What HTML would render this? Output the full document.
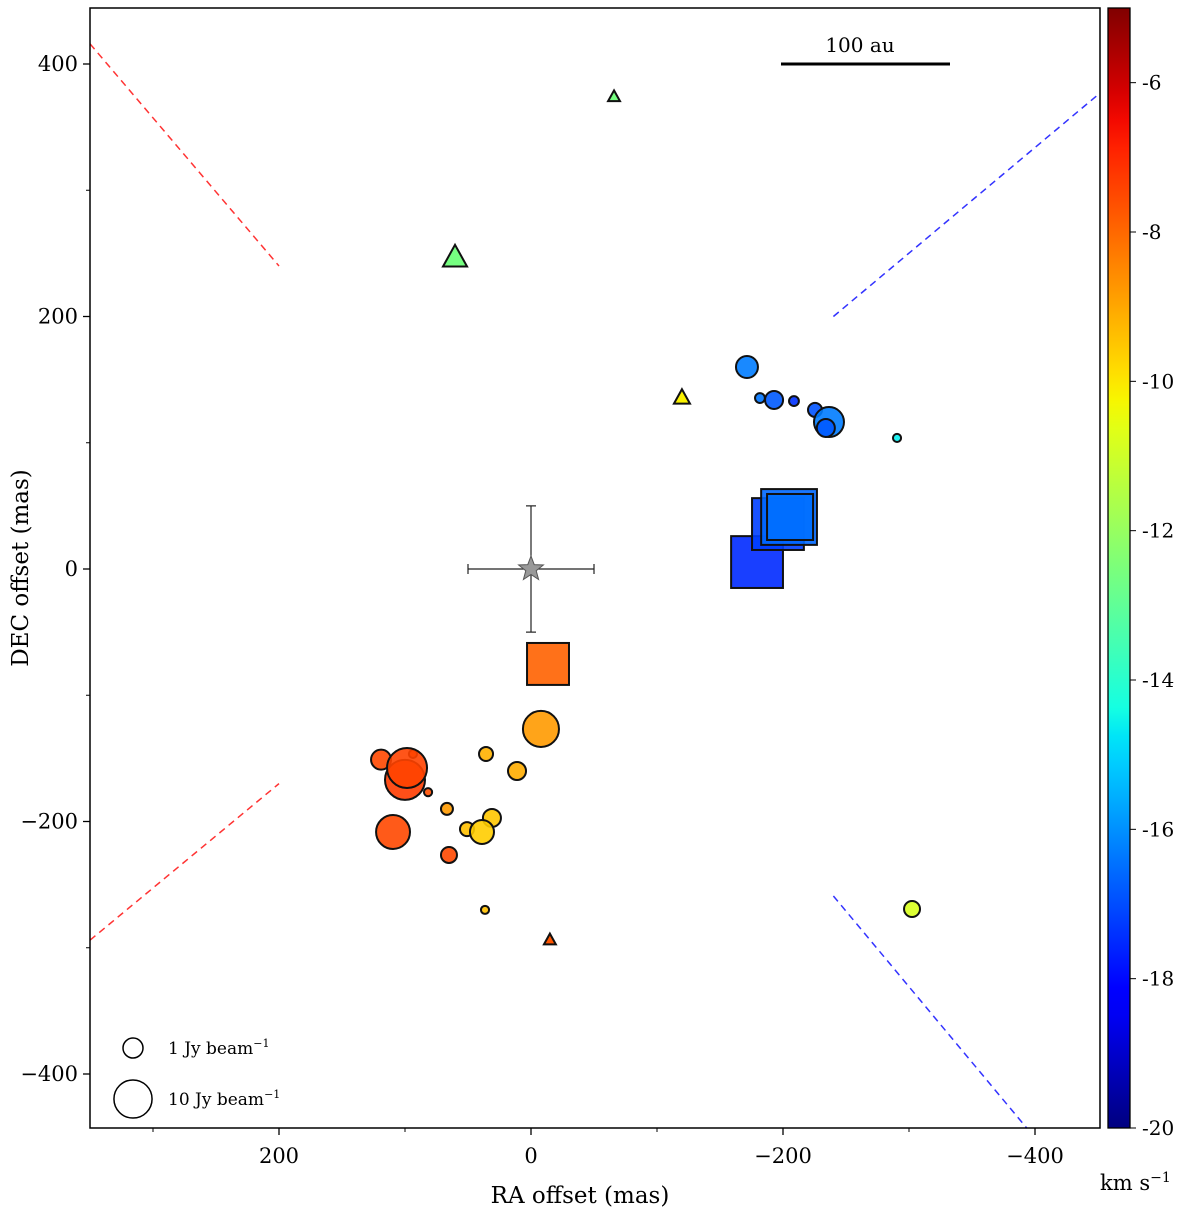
<!DOCTYPE html>
<html><head><meta charset="utf-8"><style>
body{margin:0;background:#fff}
svg text{font-family:"DejaVu Serif","Liberation Serif",serif;fill:#000}
</style></head><body>
<svg id="c" width="1200" height="1216" viewBox="0 0 1200 1216" xmlns="http://www.w3.org/2000/svg"></svg>
<script>
// circle spots: RA offset (mas), DEC offset (mas), velocity (km/s), flux (Jy/beam)
const circRA=[119,93.7,100,98.4,81.7,109.5,66.7,65.1,35.7,11.1,31,50.8,38.9,36.5,-7.9,-171.4,-181.7,-192.9,-208.7,-225.4,-236.5,-234,-290.5,-302.4];
const circDEC=[-151,-146.5,-167,-157.6,-176.8,-208.3,-190,-226.5,-146.5,-160,-197.2,-206,-208.3,-270,-126.7,160,135.4,133.9,133,126,116.4,111.7,103.8,-269.3];
const circV=[-7.5,-7.5,-7.3,-7.4,-7.6,-7.5,-8.8,-7.5,-9.2,-9.1,-9.5,-9.4,-9.6,-9.4,-8.8,-16.3,-16.4,-16.8,-17.4,-16.9,-16.3,-16.8,-14.6,-10.8];
const circF=[1.0,0.04,11.9,11.9,0.04,6.6,0.16,0.45,0.28,0.69,0.69,0.28,1.92,0.04,8.2,1.4,0.08,0.69,0.08,0.28,4.25,0.69,0.04,0.45];
// squares
const sqRA=[-13.5,-179.4,-196,-204.8,-205.6];
const sqDEC=[-75.2,5.5,35.6,41.2,41.2];
const sqV=[-7.9,-17.5,-17.2,-16.6,-16.5];
const sqF=[14.1,30,30,39,19.6];
// triangles
const triRA=[-15,-65.9,60.3,-119.8];
const triDEC=[-294,373.9,246.3,135.4];
const triV=[-7.7,-12.6,-12.6,-10.2];
const triS=[0.44,0.44,5.4,1.27];
const xTicks=[200,0,-200,-400], xMinor=[300,100,-100,-300];
const yTicks=[400,200,0,-200,-400], yMinor=[300,100,-100,-300];
const cbTicks=[-6,-8,-10,-12,-14,-16,-18,-20];

const NS="http://www.w3.org/2000/svg", svg=document.getElementById('c');
function el(t,a,p){const e=document.createElementNS(NS,t);for(const k in a)e.setAttribute(k,a[k]);(p||svg).appendChild(e);return e;}
const L=90,R=1100,T=8,B=1128;
const X=ra=>531-1.26*ra, Y=d=>569-1.2625*d;
const vmin=-20,vmax=-5, CBL=1108,CBR=1130;
const CY=v=>B-(v-vmin)/(vmax-vmin)*(B-T);
function seg(t,p){for(let i=0;i<p.length-1;i++){if(t<=p[i+1][0]){const a=p[i],b=p[i+1];return a[1]+(b[1]-a[1])*(t-a[0])/(b[0]-a[0]);}}return p[p.length-1][1];}
function jet(v){const t=Math.max(0,Math.min(1,(v-vmin)/(vmax-vmin)));
const r=seg(t,[[0,0],[0.35,0],[0.66,1],[0.89,1],[1,0.5]]);
const g=seg(t,[[0,0],[0.125,0],[0.375,1],[0.64,1],[0.91,0],[1,0]]);
const b=seg(t,[[0,0.5],[0.11,1],[0.34,1],[0.65,0],[1,0]]);
return `rgb(${Math.round(r*255)},${Math.round(g*255)},${Math.round(b*255)})`;}
const rad=f=>10*Math.pow(f,0.28);

const dl=[[350,416,200,240,'#ff3333'],[350,-294,200,-170,'#ff3333'],[-240,200,-451.6,377,'#3333ff'],[-240,-259,-393.6,-443,'#3333ff']];
dl.forEach((d,i)=>{const e=el('line',{x1:X(d[0]),y1:Y(d[1]),x2:X(d[2]),y2:Y(d[3]),stroke:d[4],'stroke-width':1.5,'stroke-dasharray':'7,5'});

});

circRA.forEach((ra,i)=>{const e=el('circle',{cx:X(ra),cy:Y(circDEC[i]),r:rad(circF[i]),fill:jet(circV[i]),'fill-opacity':0.9,stroke:'#111','stroke-width':2});

});
sqRA.forEach((ra,i)=>{const h=rad(sqF[i]);const e=el('rect',{x:X(ra)-h,y:Y(sqDEC[i])-h,width:2*h,height:2*h,fill:jet(sqV[i]),'fill-opacity':0.9,stroke:'#111','stroke-width':2});

});
triRA.forEach((ra,i)=>{const h=rad(triS[i])*0.75;const cx=X(ra),cy=Y(triDEC[i]);
const e=el('polygon',{points:`${cx},${cy-h*1.1} ${cx+h},${cy+h*0.7} ${cx-h},${cy+h*0.7}`,fill:jet(triV[i]),stroke:'#111','stroke-width':2});

});

const sx=X(0),sy=Y(0);
const eb=el('g',{stroke:'#222','stroke-width':1.2});


el('line',{x1:X(50),y1:sy,x2:X(-50),y2:sy},eb);el('line',{x1:sx,y1:Y(50),x2:sx,y2:Y(-50)},eb);
el('line',{x1:X(50),y1:sy-5,x2:X(50),y2:sy+5},eb);el('line',{x1:X(-50),y1:sy-5,x2:X(-50),y2:sy+5},eb);
el('line',{x1:sx-5,y1:Y(50),x2:sx+5,y2:Y(50)},eb);el('line',{x1:sx-5,y1:Y(-50),x2:sx+5,y2:Y(-50)},eb);
let pts=[];for(let k=0;k<10;k++){const a=-Math.PI/2+k*Math.PI/5,r=k%2?5.5:13;pts.push((sx+r*Math.cos(a)).toFixed(1)+','+(sy+r*Math.sin(a)).toFixed(1));}
const st=el('polygon',{points:pts.join(' '),fill:'#999',stroke:'#555','stroke-width':1});



const sb=el('line',{x1:781,y1:64,x2:950,y2:64,stroke:'#000','stroke-width':3});


const sbt=el('text',{x:860,y:52,'font-size':20,'text-anchor':'middle'});sbt.textContent='100 au';



[[1048,1,'1 Jy beam'],[1099,10,'10 Jy beam']].forEach(d=>{
const c=el('circle',{cx:133,cy:d[0],r:rad(d[1]),fill:'none',stroke:'#000','stroke-width':1.5});


const t=el('text',{x:168,y:d[0]+6,'font-size':17});t.innerHTML=d[2]+'<tspan dy="-7" font-size="11">−1</tspan>';

});

const fr=el('rect',{x:L,y:T,width:R-L,height:B-T,fill:'none',stroke:'#000','stroke-width':1.5});


xTicks.forEach(v=>{el('line',{x1:X(v),y1:B,x2:X(v),y2:B+7,stroke:'#000','stroke-width':1.3});
const t=el('text',{x:X(v),y:B+35,'font-size':21,'text-anchor':'middle'});t.textContent=v<0?'−'+(-v):v;

});
xMinor.forEach(v=>el('line',{x1:X(v),y1:B,x2:X(v),y2:B+4,stroke:'#000'}));
yTicks.forEach(v=>{el('line',{x1:L,y1:Y(v),x2:L-7,y2:Y(v),stroke:'#000','stroke-width':1.3});
const t=el('text',{x:L-12,y:Y(v)+7,'font-size':21,'text-anchor':'end'});t.textContent=v<0?'−'+(-v):v;

});
yMinor.forEach(v=>el('line',{x1:L,y1:Y(v),x2:L-4,y2:Y(v),stroke:'#000'}));
const xl=el('text',{x:580,y:1203,'font-size':23,'text-anchor':'middle'});xl.textContent='RA offset (mas)';


const yl=el('text',{x:0,y:0,'font-size':23,'text-anchor':'middle',transform:'translate(28,568) rotate(-90)'});yl.textContent='DEC offset (mas)';



const defs=el('defs',{});const g=el('linearGradient',{id:'jg',x1:0,y1:1,x2:0,y2:0},defs);
for(let k=0;k<=40;k++){const v=vmin+(vmax-vmin)*k/40;el('stop',{offset:k/40,'stop-color':jet(v)},g);}
const cb=el('rect',{x:CBL,y:T,width:CBR-CBL,height:B-T,fill:'url(#jg)',stroke:'#000','stroke-width':1.3});


cbTicks.forEach(v=>{el('line',{x1:CBR,y1:CY(v),x2:CBR+6,y2:CY(v),stroke:'#000'});
const t=el('text',{x:CBR+12,y:CY(v)+7,'font-size':20});t.textContent=v;

});
const cu=el('text',{x:1100,y:1190,'font-size':21});cu.innerHTML='km s<tspan dy="-8" font-size="14">−1</tspan>';


</script>
</body></html>
